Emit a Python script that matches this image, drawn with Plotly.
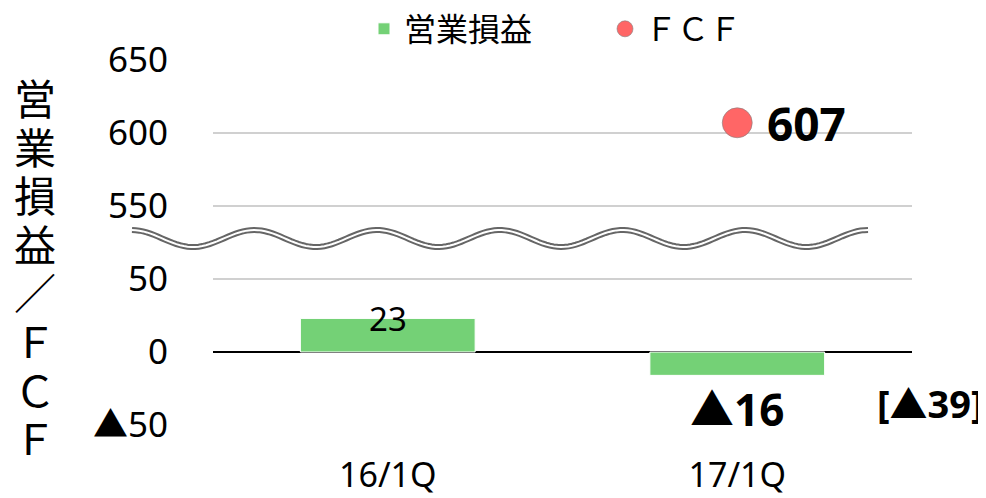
"""営業損益 / FCF チャート (破断軸)"""

import numpy as np
import plotly.graph_objects as go

# データ
QUARTERS = ["16/1Q", "17/1Q"]
OP_PROFIT = [23, -16]
OP_LABELS = ["23", "<b>▲16</b>"]
FCF_QUARTERS = ["17/1Q"]
FCF_VALUES = [607]
FCF_LABELS = ["<b>607</b>"]
NOTE_TEXT = "<b>[▲39]</b>"
Y_TITLE = "営業損益／ＦＣＦ"

LOWER_TICKS = [-50, 0, 50]
LOWER_TICKTEXT = ["▲50", "0", "50"]
UPPER_TICKS = [550, 600, 650]

GREEN = "#74D176"
RED = "#FF6666"
FONT = "Noto Sans, Noto Sans CJK JP, DejaVu Sans, sans-serif"

# ページには 8px の余白があるので、図はその分小さくする
W, H = 978, 490
PLOT_X0, PLOT_X1 = 213, 912   # ページ上の座標
PLOT_Y0, PLOT_Y1 = 60, 425
PW, PH = PLOT_X1 - PLOT_X0, PLOT_Y1 - PLOT_Y0
L, T = PLOT_X0 - 8, PLOT_Y0 - 8
R, B = W - L - PW, H - T - PH


def to_paper(px, py):
    return (px - PLOT_X0) / PW, (PLOT_Y1 - py) / PH


fig = go.Figure()
fig.add_trace(
    go.Bar(
        x=QUARTERS,
        y=OP_PROFIT,
        name="営業損益",
        marker=dict(color=GREEN, line=dict(color="white", width=1)),
        yaxis="y",
    )
)
fig.add_trace(
    go.Scatter(
        x=FCF_QUARTERS,
        y=FCF_VALUES,
        name="ＦＣＦ",
        mode="markers",
        marker=dict(size=30, color=RED, line=dict(color="rgba(130,130,130,0.6)", width=1)),
        yaxis="y2",
    )
)

# ラベル
for q, v, t in zip(QUARTERS, OP_PROFIT, OP_LABELS):
    if v >= 0:
        fig.add_annotation(x=q, y=v, xref="x", yref="y", text=t, showarrow=False,
                           yanchor="middle", font=dict(size=33, color="black"))
    else:
        fig.add_annotation(x=q, y=v, xref="x", yref="y", text=t, showarrow=False,
                           yanchor="top", yshift=-2, font=dict(size=44, color="black"))
for q, v, t in zip(FCF_QUARTERS, FCF_VALUES, FCF_LABELS):
    fig.add_annotation(x=q, y=v, xref="x", yref="y2", text=t, showarrow=False,
                       xanchor="left", xshift=28, font=dict(size=46, color="black"))

nx, ny = to_paper(986, 403)
fig.add_annotation(x=nx, y=ny, xref="paper", yref="paper", text=NOTE_TEXT,
                   showarrow=False, xanchor="right", yanchor="middle",
                   font=dict(size=38, color="black"))

# 縦書きの軸タイトル (1文字ずつ)
for i, ch in enumerate(Y_TITLE):
    cx, cy = to_paper(35, 98 + i * 48.6)
    fig.add_annotation(x=cx, y=cy, xref="paper", yref="paper", text=ch,
                       showarrow=False, xanchor="center", yanchor="middle",
                       height=48, font=dict(size=42, color="black"))

# 破断線 (波線)
xs = np.linspace(132, 868, 200)
ys = 238.5 + 8.5 * np.cos((xs - 193) / 122.7 * 2 * np.pi)
pts = [to_paper(a, b) for a, b in zip(xs, ys)]
path = "M " + " L ".join(f"{a:.4f},{b:.4f}" for a, b in pts)
fig.add_shape(type="path", path=path, xref="paper", yref="paper",
              line=dict(color="#666666", width=6))
fig.add_shape(type="path", path=path, xref="paper", yref="paper",
              line=dict(color="white", width=2))

lx, ly = to_paper(364, 29)
fig.update_layout(
    width=W,
    height=H,
    margin=dict(l=L, r=R, t=T, b=B, autoexpand=False),
    plot_bgcolor="white",
    paper_bgcolor="white",
    font=dict(family=FONT, size=34, color="black"),
    bargap=0.5,
    showlegend=True,
    legend=dict(orientation="h", x=lx, xanchor="left", y=ly, yanchor="middle",
                font=dict(size=32), itemwidth=30, entrywidth=196, entrywidthmode="pixels"),
    xaxis=dict(anchor="y", showgrid=False, showline=False, ticks="",
               ticklabelstandoff=27, tickfont=dict(size=34)),
    yaxis=dict(domain=[0, 0.5], range=[-50, 75], tickvals=LOWER_TICKS,
               ticktext=LOWER_TICKTEXT, showgrid=True, gridcolor="#D0D0D0", gridwidth=1.5,
               zeroline=True, zerolinecolor="black", zerolinewidth=1.5,
               showline=False, ticks="", ticklabelstandoff=44, tickfont=dict(size=35)),
    yaxis2=dict(domain=[0.5, 1], range=[525, 650], tickvals=UPPER_TICKS, anchor="x",
                showgrid=True, gridcolor="#D0D0D0", gridwidth=1.5, zeroline=False,
                showline=False, ticks="", ticklabelstandoff=44, tickfont=dict(size=35)),
)

fig.write_html("out.html")
